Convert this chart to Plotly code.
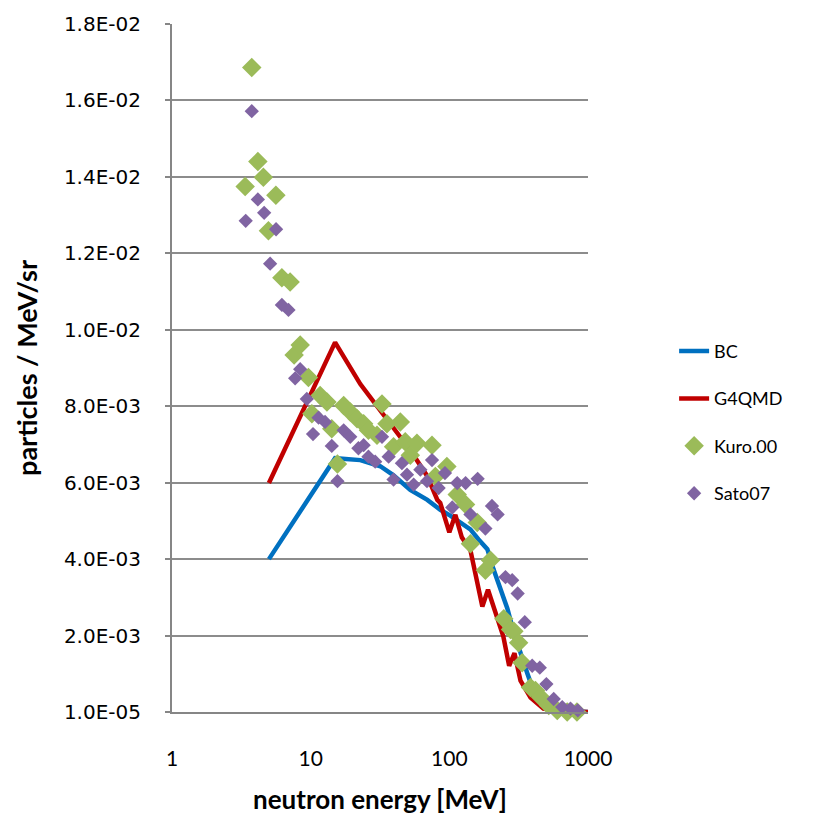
import plotly.graph_objects as go

# ---- data ----
bc_e = [5.0, 15.0, 22.8, 31.8, 39.4, 52.3, 69.4, 86.1, 101.6, 120, 141.8, 161.9, 188, 208, 233, 262, 290, 326, 366, 404, 477, 633, 1000]
bc_v = [4.01e-3, 6.65e-3, 6.60e-3, 6.44e-3, 6.21e-3, 5.82e-3, 5.56e-3, 5.30e-3, 5.15e-3, 4.97e-3, 4.79e-3, 4.53e-3, 4.27e-3, 3.75e-3, 3.23e-3, 2.72e-3, 2.12e-3, 1.53e-3, 1.01e-3, 5.7e-4, 2.3e-4, 5e-5, 1e-5]

g4_e = [5.0, 15.0, 22.8, 35.7, 52.3, 69.4, 81.9, 86, 100, 110.5, 123, 142, 159, 173, 190, 215, 245, 270, 295, 326, 385, 477, 633, 1000]
g4_v = [6.0e-3, 9.68e-3, 8.59e-3, 7.63e-3, 6.86e-3, 6.18e-3, 5.56e-3, 5.48e-3, 4.71e-3, 5.17e-3, 4.58e-3, 4.24e-3, 3.47e-3, 2.77e-3, 3.21e-3, 2.59e-3, 1.99e-3, 1.22e-3, 1.55e-3, 8.3e-4, 3.9e-4, 1.0e-4, 3e-5, 1e-5]

kuro_e = [3.37, 3.76, 4.16, 4.56, 4.96, 5.61, 6.20, 7.11, 7.60, 8.40,
          9.64, 10.2, 11.7, 13.1, 14.2, 15.6, 17.3, 19.3, 21.6, 24.1,
          26.1, 30.1, 32.7, 35.5, 39.6, 44.3, 48.1, 52.3, 58.4, 75.0,
          79.3, 96, 114, 131, 142, 159, 182, 198, 247, 276,
          292, 316, 335, 385, 418, 454, 521, 600, 708, 832]
kuro_v = [1.376e-2, 1.687e-2, 1.441e-2, 1.400e-2, 1.260e-2, 1.353e-2, 1.137e-2, 1.126e-2, 9.35e-3, 9.61e-3,
          8.76e-3, 7.81e-3, 8.29e-3, 8.12e-3, 7.42e-3, 6.50e-3, 8.03e-3, 7.86e-3, 7.68e-3, 7.55e-3,
          7.38e-3, 7.25e-3, 8.07e-3, 7.55e-3, 6.95e-3, 7.60e-3, 7.08e-3, 6.73e-3, 7.04e-3, 6.99e-3,
          6.17e-3, 6.43e-3, 5.70e-3, 5.44e-3, 4.41e-3, 4.97e-3, 3.72e-3, 3.98e-3, 2.45e-3, 2.17e-3,
          2.12e-3, 1.82e-3, 1.30e-3, 6.5e-4, 5.7e-4, 4.0e-4, 1.8e-4, 5e-5, 1e-5, 1e-5]

sato_e = [3.40, 3.76, 4.16, 4.62, 5.10, 5.63, 6.20, 6.92, 7.73, 8.40,
          9.38, 10.4, 11.4, 12.7, 14.2, 15.6, 17.3, 19.3, 22.1, 24.1,
          26.1, 29.2, 32.7, 36.5, 39.6, 45.5, 49.5, 55.3, 61.8, 69,
          75, 83.7, 93, 105, 114, 131, 142, 160, 182, 203,
          223, 254, 284, 311, 350, 396, 449, 501, 566, 652,
          748, 844]
sato_v = [1.286e-2, 1.573e-2, 1.342e-2, 1.307e-2, 1.174e-2, 1.264e-2, 1.066e-2, 1.053e-2, 8.74e-3, 8.98e-3,
          8.20e-3, 7.28e-3, 7.71e-3, 7.60e-3, 6.97e-3, 6.05e-3, 7.38e-3, 7.21e-3, 6.91e-3, 6.99e-3,
          6.69e-3, 6.56e-3, 7.21e-3, 6.69e-3, 6.09e-3, 6.52e-3, 6.22e-3, 5.96e-3, 6.35e-3, 6.05e-3,
          6.60e-3, 5.87e-3, 6.26e-3, 5.36e-3, 6.00e-3, 6.00e-3, 5.18e-3, 6.11e-3, 4.81e-3, 5.40e-3,
          5.18e-3, 3.54e-3, 3.46e-3, 3.11e-3, 2.36e-3, 1.22e-3, 1.17e-3, 7.4e-4, 3.5e-4, 1.4e-4,
          1e-4, 5e-5]

y_tickvals = [1e-5 + k * 2e-3 for k in range(10)]
y_ticktext = ["1.0E-05", "2.0E-03", "4.0E-03", "6.0E-03", "8.0E-03",
              "1.0E-02", "1.2E-02", "1.4E-02", "1.6E-02", "1.8E-02"]
x_tickvals = [1, 10, 100, 1000]
x_ticktext = ["1", "10", "100", "1000"]

fig = go.Figure()
fig.add_trace(go.Scatter(x=bc_e, y=bc_v, mode="lines", name="BC", legendgroup="a",
                         line=dict(color="#0070C0", width=4.5), cliponaxis=False))
fig.add_trace(go.Scatter(x=g4_e, y=g4_v, mode="lines", name="G4QMD", legendgroup="b",
                         line=dict(color="#C00000", width=4.5), cliponaxis=False))
fig.add_trace(go.Scatter(x=kuro_e, y=kuro_v, mode="markers", name="Kuro.00", legendgroup="c",
                         marker=dict(symbol="diamond", size=15, color="#9BBB59"), cliponaxis=False))
fig.add_trace(go.Scatter(x=sato_e, y=sato_v, mode="markers", name="Sato07", legendgroup="d",
                         marker=dict(symbol="diamond", size=11, color="#8064A2"), cliponaxis=False))

fig.update_layout(
    width=815, height=822,
    margin=dict(l=172, r=227, t=16, b=110),
    paper_bgcolor="white", plot_bgcolor="white",
    showlegend=True,
    legend=dict(x=1.207, y=0.421, xanchor="left", yanchor="middle",
                font=dict(family="Lato, Open Sans, sans-serif", size=18, color="black"),
                tracegroupgap=21, bgcolor="rgba(0,0,0,0)"),
    xaxis=dict(type="log", range=[0, 3], tickvals=x_tickvals, ticktext=x_ticktext,
               showgrid=False, showline=True, linecolor="#868686", linewidth=2,
               ticks="", ticklabelstandoff=27,
               tickfont=dict(family="Lato, Open Sans, sans-serif", size=21, color="black"),
               title=dict(text="<b>neutron energy [MeV]</b>", standoff=22,
                          font=dict(family="Lato, Open Sans, sans-serif", size=26, color="black")),
               zeroline=False),
    yaxis=dict(range=[1e-5, 0.01801], tickvals=y_tickvals, ticktext=y_ticktext,
               showgrid=True, gridcolor="#8C8C8C", gridwidth=1.5,
               showline=True, linecolor="#868686", linewidth=2,
               ticks="outside", ticklen=5, tickcolor="#868686", tickwidth=1.5,
               ticklabelstandoff=20,
               tickfont=dict(family="DejaVu Sans, sans-serif", size=20, color="black"),
               title=dict(text="<b>particles / MeV/sr</b>", standoff=18,
                          font=dict(family="Lato, Open Sans, sans-serif", size=27, color="black")),
               zeroline=False),
)

fig.write_html("out.html")
